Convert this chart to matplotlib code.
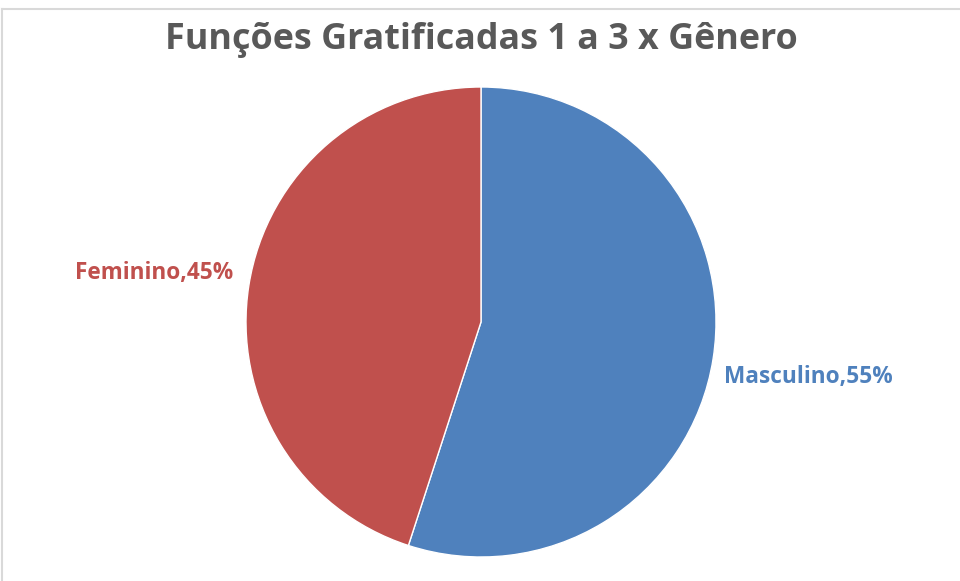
import matplotlib

matplotlib.use("Agg")
import matplotlib.pyplot as plt
from matplotlib.lines import Line2D

# data
labels = ["Masculino", "Feminino"]
shares = [55, 45]
colors = ["#4F81BD", "#C0504D"]
title = "Funções Gratificadas 1 a 3 x Gênero"

plt.rcParams["font.family"] = ["Open Sans", "DejaVu Sans"]

W, H = 960, 581
fig = plt.figure(figsize=(W / 100, H / 100), dpi=100)
fig.patch.set_facecolor("white")

# light grey chart-area border (top and left edges visible in reference)
fig.add_artist(Line2D([1.5 / W, 1.0], [1 - 8.5 / H, 1 - 8.5 / H], color="#D9D9D9", lw=1.5))
fig.add_artist(Line2D([1.5 / W, 1.5 / W], [0, 1 - 8.5 / H], color="#D9D9D9", lw=1.5))

ax = fig.add_axes([246 / W, 24 / H, 470 / W, 470 / H])
wedges, texts = ax.pie(
    shares,
    labels=[f"{lab},{v}%" for lab, v in zip(labels, shares)],
    colors=colors,
    startangle=90,
    counterclock=False,
    labeldistance=1.41,
    wedgeprops={"edgecolor": "white", "linewidth": 1},
    textprops={"fontsize": 16.3, "fontweight": "bold"},
)
for t, c in zip(texts, colors):
    t.set_color(c)
    t.set_ha("center")
    t.set_va("center_baseline")
ax.set_xlim(-1, 1)
ax.set_ylim(-1, 1)
ax.set_aspect("equal")

fig.text(481 / W, 1 - 40 / H, title, ha="center", va="center",
         fontsize=25.8, fontweight="bold", color="#595959")

fig.savefig("out.png", dpi=100)
